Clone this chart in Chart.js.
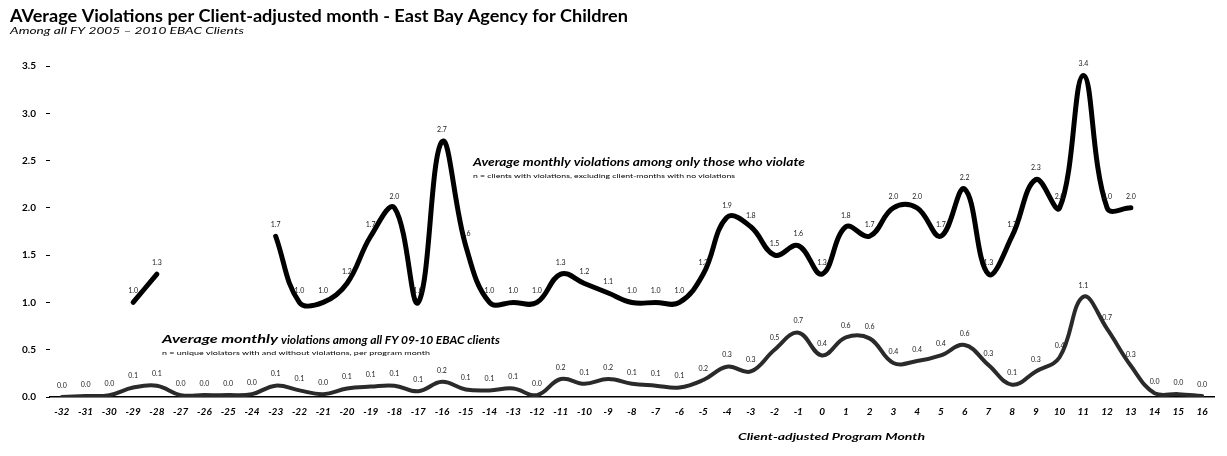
<!DOCTYPE html>
<html>
<head>
<meta charset="utf-8">
<script src="https://cdn.jsdelivr.net/npm/chart.js@4.4.1/dist/chart.umd.min.js"></script>
<style>
  html, body { margin: 0; padding: 0; background: #ffffff; }
  #wrap { position: relative; width: 1227px; height: 456px; }
</style>
</head>
<body>
<div id="wrap"><canvas id="chart" width="1227" height="456"></canvas></div>
<script>
// Client-adjusted program month (x categories)
const months = [-32, -31, -30, -29, -28, -27, -26, -25, -24, -23, -22, -21, -20, -19, -18, -17,
  -16, -15, -14, -13, -12, -11, -10, -9, -8, -7, -6, -5, -4, -3, -2, -1,
  0, 1, 2, 3, 4, 5, 6, 7, 8, 9, 10, 11, 12, 13, 14, 15, 16];

// Average monthly violations among only those clients who violate
const violatorsOnly = [null, null, null, 1.0, 1.3, null, null, null, null,
  1.7, 1.0, 1.0, 1.2, 1.7, 2.0, 1.0, 2.7, 1.6, 1.0, 1.0, 1.0, 1.3, 1.2, 1.1, 1.0, 1.0, 1.0,
  1.3, 1.9, 1.8, 1.5, 1.6, 1.3, 1.8, 1.7, 2.0, 2.0, 1.7, 2.2, 1.3, 1.7, 2.3, 2.0, 3.4, 2.0, 2.0,
  null, null, null];

// Average monthly violations among all FY 09-10 EBAC clients
const allClients = [0.00, 0.01, 0.02, 0.10, 0.12, 0.02, 0.02, 0.02, 0.03,
  0.12, 0.07, 0.03, 0.09, 0.11, 0.12, 0.06, 0.16, 0.08, 0.07, 0.09, 0.02, 0.19, 0.14, 0.19, 0.14, 0.12, 0.10,
  0.18, 0.32, 0.27, 0.50, 0.68, 0.44, 0.63, 0.62, 0.36, 0.38, 0.44, 0.55, 0.34, 0.13, 0.27, 0.42, 1.06, 0.72, 0.33,
  0.04, 0.03, 0.01];

// Value axis ticks
const yTicks = [0, 0.5, 1.0, 1.5, 2.0, 2.5, 3.0, 3.5];

const FONT = 'Lato';

// Draws a line of text stretched horizontally to span the given width
function spanText(ctx, text, x, y, width) {
  const w = ctx.measureText(text).width;
  ctx.save();
  ctx.translate(x, y);
  ctx.scale(width / w, 1);
  ctx.fillText(text, 0, 0);
  ctx.restore();
}

// Value labels above each point
const valueLabels = {
  id: 'valueLabels',
  afterDatasetsDraw(chart) {
    const ctx = chart.ctx;
    chart.data.datasets.forEach((ds, i) => {
      const meta = chart.getDatasetMeta(i);
      ctx.save();
      ctx.font = '7px ' + FONT;
      ctx.fillStyle = '#1a1a1a';
      ctx.textAlign = 'center';
      ctx.textBaseline = 'bottom';
      meta.data.forEach((pt, j) => {
        const v = ds.data[j];
        if (v === null || v === undefined) return;
        ctx.fillText(v.toFixed(1), pt.x, pt.y - ds.labelGap);
      });
      ctx.restore();
    });
  }
};

// Titles, series captions and axis title
const captions = {
  id: 'captions',
  afterDraw(chart) {
    const ctx = chart.ctx;
    ctx.save();
    ctx.fillStyle = '#000';
    ctx.textAlign = 'left';
    ctx.textBaseline = 'middle';

    ctx.font = 'bold 16.5px ' + FONT;
    spanText(ctx, 'AVerage Violations per Client-adjusted month - East Bay Agency for Children', 10, 17, 618);
    ctx.font = 'italic 10px ' + FONT;
    spanText(ctx, 'Among all FY 2005 \u2013 2010 EBAC Clients', 10, 31, 234);

    ctx.font = 'italic bold 11.5px ' + FONT;
    spanText(ctx, 'Average monthly violations among only those who violate', 473, 162, 332);
    ctx.font = '6px ' + FONT;
    spanText(ctx, 'n = clients with violations, excluding client-months with no violations', 473, 176, 262);

    ctx.font = 'italic bold 12px ' + FONT;
    spanText(ctx, 'Average monthly', 162, 339, 116);
    ctx.font = 'italic bold 10.5px ' + FONT;
    spanText(ctx, 'violations among all FY 09-10 EBAC clients', 281, 341, 219);
    ctx.font = '6px ' + FONT;
    spanText(ctx, 'n = unique violators with and without violations, per program month', 162, 353, 268);

    ctx.font = 'italic bold 10px ' + FONT;
    spanText(ctx, 'Client-adjusted Program Month', 738, 437, 187);
    ctx.restore();
  }
};

new Chart(document.getElementById('chart'), {
  type: 'line',
  data: {
    labels: months.map(String),
    datasets: [
      {
        label: 'Average monthly violations among only those who violate',
        data: violatorsOnly,
        borderColor: '#000000',
        borderWidth: 5,
        tension: 0.4,
        pointRadius: 0,
        spanGaps: false,
        borderCapStyle: 'round',
        borderJoinStyle: 'round',
        labelGap: 8
      },
      {
        label: 'Average monthly violations among all FY 09-10 EBAC clients',
        data: allClients,
        borderColor: '#2a2a2a',
        borderWidth: 4,
        tension: 0.4,
        pointRadius: 0,
        borderCapStyle: 'round',
        borderJoinStyle: 'round',
        labelGap: 8
      }
    ]
  },
  options: {
    responsive: false,
    animation: false,
    devicePixelRatio: 1,
    layout: { padding: { left: 12, right: 13, top: 66, bottom: 39 } },
    plugins: {
      legend: { display: false },
      tooltip: { enabled: false },
      title: { display: false }
    },
    scales: {
      x: {
        type: 'category',
        offset: true,
        grid: { display: true, drawOnChartArea: false, drawTicks: false },
        border: { display: true, color: '#000', width: 1.5 },
        ticks: {
          color: '#000',
          font: { family: FONT, size: 10, style: 'italic', weight: 'bold' },
          padding: 9,
          maxRotation: 0,
          autoSkip: false
        },
        afterFit(axis) { axis.height = 20; }
      },
      y: {
        min: 0,
        max: 3.5,
        afterBuildTicks(axis) { axis.ticks = yTicks.map(v => ({ value: v })); },
        grid: { display: true, drawOnChartArea: false, drawTicks: true, tickLength: 4, color: '#000' },
        border: { display: false },
        ticks: {
          color: '#000',
          font: { family: FONT, size: 10, weight: 'bold' },
          padding: 10,
          callback: v => Number(v).toFixed(1)
        },
        afterFit(axis) { axis.width = 38; }
      }
    }
  },
  plugins: [valueLabels, captions]
});
</script>
</body>
</html>
